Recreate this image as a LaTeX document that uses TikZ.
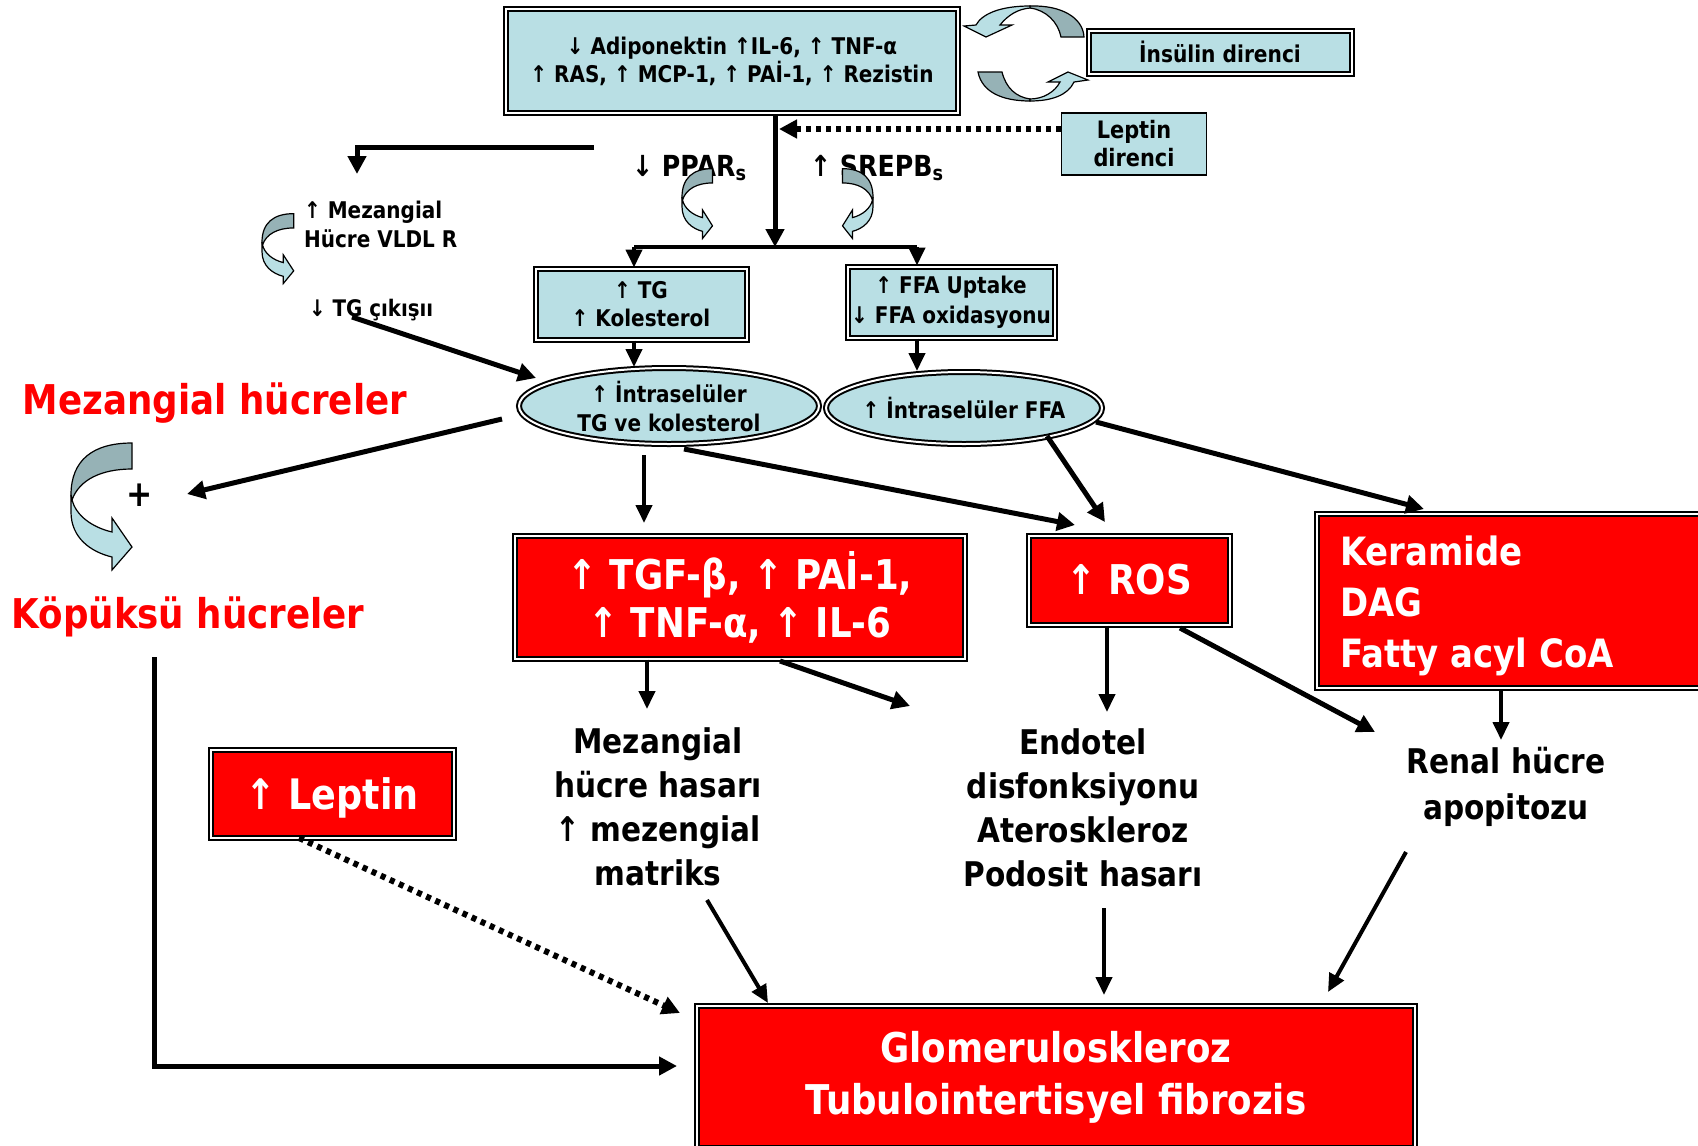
\documentclass[tikz,border=0pt]{standalone}
\usepackage{fontspec}
\setmainfont{DejaVu Sans}[FakeStretch=0.87]
\usetikzlibrary{arrows.meta,shapes.geometric,calc}
\definecolor{lblue}{RGB}{185,223,228}
\definecolor{cdark}{RGB}{150,178,182}
\definecolor{clight}{RGB}{185,223,228}
\definecolor{rd}{RGB}{255,0,0}
\newcommand\fz[2]{\fontsize{#1pt}{#2pt}\selectfont\bfseries}
\tikzset{
 bbox/.style={draw=black, line width=1pt, double=white, double distance=1pt, fill=lblue, inner sep=0pt, align=center},
 rbox/.style={draw=black, line width=1pt, double=white, double distance=1pt, fill=rd, inner sep=0pt, align=center, text=white},
 ar/.style={line width=2.5pt, -{Triangle[length=9pt,width=9pt]}},
 arf/.style={line width=2pt, -{Triangle[length=9pt,width=8pt]}},
 dotar/.style={line width=3pt, dash pattern=on 2.5pt off 2.5pt, -{Triangle[length=9pt,width=9pt]}},
 carrow/.pic={
  \filldraw[fill=cdark, draw=black, line width=0.6pt] (61,-57) .. controls (22,-57) and (0,-40) .. (0,-5) -- (1,0) .. controls (8,-20) and (30,-31) .. (61,-31) -- cycle;
  \filldraw[fill=clight, draw=black, line width=0.6pt] (0,-5) -- (0,12) .. controls (0,38) and (20,52) .. (41,57) -- (41,70) -- (61,47) -- (41,18) -- (41,32) .. controls (20,27) and (5,15) .. (1,0) -- cycle;
 }
}
\begin{document}
\begin{tikzpicture}[x=0.5pt,y=-0.5pt]
\useasboundingbox (0,0) rectangle (1698,1146);
\clip (0,0) rectangle (1698,1146);
\fill[white] (0,0) rectangle (1698,1146);

% boxes
\node[bbox, minimum width=226pt, minimum height=52pt, font=\fz{11.5}{14}] (top) at (732,61) {↓ Adiponektin ↑IL-6, ↑ TNF-α\\↑ RAS, ↑ MCP-1, ↑ PAİ-1, ↑ Rezistin};
\node[bbox, minimum width=131.5pt, minimum height=21.5pt, font=\fz{11.6}{14}] (ins) at (1220,52) {İnsülin direnci};
\node[draw=black, line width=0.6pt, fill=lblue, inner sep=0pt, align=center, minimum width=72.5pt, minimum height=31pt, font=\fz{12}{14}] (lepd) at (1134,144) {Leptin\\direnci};
\node[anchor=west, font=\fz{14.5}{17}] (ppar) at (625,168) {↓ PPAR\textsubscript{s}};
\node[anchor=west, font=\fz{14.5}{17}] (srepb) at (803,168) {↑ SREPB\textsubscript{s}};
\node[anchor=west, align=left, font=\fz{11.5}{14.5}] (vldl) at (297,224) {↑ Mezangial\\Hücre VLDL R};
\node[anchor=west, font=\fz{11.4}{13}] (tgc) at (302,310) {↓ TG çıkışıı};
\node[bbox, minimum width=105.5pt, minimum height=35.5pt, font=\fz{11.5}{14}] (tg) at (641,304) {↑ TG\\↑ Kolesterol};
\node[bbox, minimum width=103.5pt, minimum height=35.5pt, font=\fz{11.5}{15}] (ffa) at (951,302) {↑ FFA Uptake\\↓ FFA oxidasyonu};
\node[bbox, ellipse, inner xsep=-6pt, minimum width=150pt, minimum height=38pt, font=\fz{11.5}{14.5}] (ell1) at (669,406) {↑ İntraselüler\\TG ve kolesterol};
\node[bbox, ellipse, inner xsep=-10pt, minimum width=138pt, minimum height=36pt, font=\fz{11.5}{14}] (ell2) at (964,408) {↑ İntraselüler FFA};
\node[text=rd, font=\fz{20.5}{24}] (mez) at (215,403) {Mezangial hücreler};
\node[font=\fz{18}{20}] (plus) at (140,495) {+};
\node[text=rd, font=\fz{20.5}{24}] (kop) at (188,617) {Köpüksü hücreler};
\node[rbox, minimum width=225pt, minimum height=61.5pt, font=\fz{20.5}{24}] (tgf) at (740,597) {↑ TGF-β, ↑ PAİ-1,\\↑ TNF-α, ↑ IL-6};
\node[rbox, minimum width=100.5pt, minimum height=44.5pt, font=\fz{20.5}{24}] (ros) at (1129,580) {↑ ROS};
\node[rbox, minimum width=220pt, minimum height=87pt] (ker) at (1537,601) {};
\node[anchor=west, align=left, text=white, font=\fz{19.5}{25.5}] (kert) at (1333,606) {Keramide\\DAG\\Fatty acyl CoA};
\node[rbox, minimum width=121.5pt, minimum height=44pt, text depth=0pt, font=\fz{21}{24}] (lep) at (332,794) {↑ Leptin};
\node[align=center, font=\fz{17}{22}] (mhh) at (658,807) {Mezangial\\hücre hasarı\\↑ mezengial\\matriks};
\node[align=center, font=\fz{17}{22}] (endo) at (1083,808) {Endotel\\disfonksiyonu\\Ateroskleroz\\Podosit hasarı};
\node[align=center, font=\fz{17}{23}] (ren) at (1506,787) {Renal hücre\\apopitozu};
\node[rbox, minimum width=359pt, minimum height=71pt, font=\fz{20.5}{26}] (glo) at (1056,1077) {Glomeruloskleroz\\Tubulointertisyel fibrozis};

% curved block arrows
\pic at (71,500) {carrow};
\pic[xscale=0.5, yscale=0.55] at (682,200) {carrow};
\pic[xscale=-0.5, yscale=0.55] at (873,200) {carrow};
\pic[xscale=0.52, yscale=0.55] at (262,245) {carrow};
% insulin loop arrows
\filldraw[fill=cdark, draw=black, line width=0.6pt] (1030,6) .. controls (1062,5) and (1083,18) .. (1084,37) -- (1061,37) .. controls (1058,22) and (1046,10) .. (1030,8) -- cycle;
\filldraw[fill=clight, draw=black, line width=0.6pt] (1030,6) .. controls (1000,6) and (982,14) .. (976,25) -- (964,26) -- (986,37) -- (1012,25) -- (1000,25) .. controls (1008,15) and (1018,9) .. (1030,8) -- cycle;
\filldraw[fill=cdark, draw=black, line width=0.6pt] (978,72) .. controls (982,92) and (1002,101) .. (1030,101) -- (1030,99) .. controls (1016,97) and (1006,88) .. (1002,72) -- cycle;
\filldraw[fill=clight, draw=black, line width=0.6pt] (1030,101) .. controls (1052,101) and (1068,95) .. (1074,82) -- (1088,80) -- (1068,72) -- (1048,82) -- (1060,82) .. controls (1055,92) and (1043,99) .. (1030,99) -- cycle;

% coordinates
\coordinate (jn) at (775,247);
\coordinate (bl) at (634,247);
\coordinate (br) at (917,247);
\coordinate (dtip) at (779,129);
\coordinate (h1) at (594,147);
\coordinate (h2) at (357,174);
\coordinate (c4s) at (352,317);
\coordinate (c4e) at (536,378);
\coordinate (a6s) at (502,419);
\coordinate (a6e) at (187,494);
\coordinate (a7s) at (644,455);
\coordinate (a7e) at (644,523);
\coordinate (a8s) at (684,449);
\coordinate (a8e) at (1075,525);
\coordinate (a9s) at (1047,436);
\coordinate (a9e) at (1105,522);
\coordinate (a10s) at (1096,422);
\coordinate (a10e) at (1424,509);
\coordinate (a11e) at (647,709);
\coordinate (a12s) at (780,661);
\coordinate (a12e) at (910,706);
\coordinate (a13e) at (1107,712);
\coordinate (a14s) at (1180,628);
\coordinate (a14e) at (1375,732);
\coordinate (a15e) at (1501,740);
\coordinate (a16s) at (299,838);
\coordinate (a16e) at (680,1013);
\coordinate (a17s) at (154,657);
\coordinate (a17e) at (677,1066);
\coordinate (a18s) at (707,900);
\coordinate (a18e) at (768,1003);
\coordinate (a19s) at (1104,908);
\coordinate (a19e) at (1104,995);
\coordinate (a20s) at (1406,852);
\coordinate (a20e) at (1328,992);

% connectors
\draw[ar] (top.south -| jn) -- (jn);
\draw[line width=2pt] (bl) -- (br);
\draw[arf] (bl) -- (bl |- tg.north);
\draw[arf] (br) -- (br |- ffa.north);
\draw[dotar] (lepd.west |- dtip) -- (dtip);
\draw[ar] (h1) -| (h2);
\draw[ar] (c4s) -- (c4e);
\draw[arf] (bl |- tg.south) -- (bl |- ell1.north);
\draw[arf] (br |- ffa.south) -- (br |- ell2.north);
\draw[ar] (a6s) -- (a6e);
\draw[arf] (a7s) -- (a7e);
\draw[ar] (a8s) -- (a8e);
\draw[ar] (a9s) -- (a9e);
\draw[ar] (a10s) -- (a10e);
\draw[arf] (tgf.south -| a11e) -- (a11e);
\draw[ar] (a12s) -- (a12e);
\draw[arf] (ros.south -| a13e) -- (a13e);
\draw[ar] (a14s) -- (a14e);
\draw[arf] (ker.south -| a15e) -- (a15e);
\draw[dotar] (a16s) -- (a16e);
\draw[ar] (a17s) |- (a17e);
\draw[arf] (a18s) -- (a18e);
\draw[arf] (a19s) -- (a19e);
\draw[arf] (a20s) -- (a20e);
\end{tikzpicture}
\end{document}
